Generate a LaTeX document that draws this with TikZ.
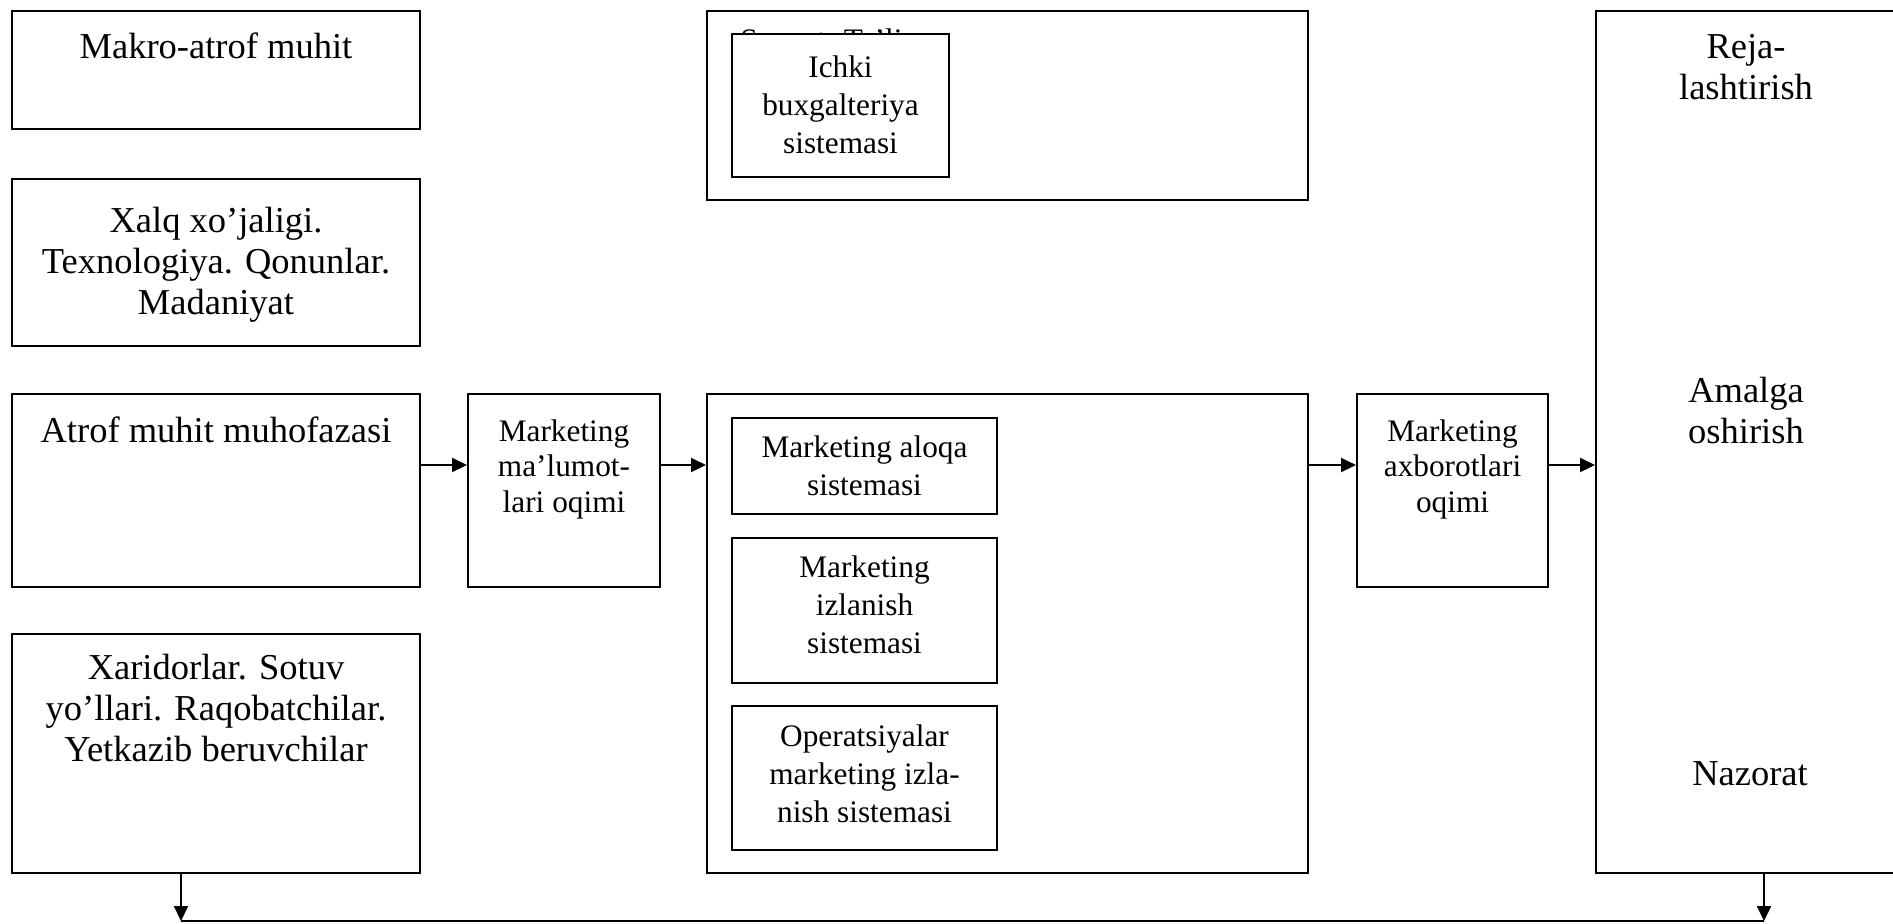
\documentclass[tikz,border=0pt]{standalone}
\usepackage{fontspec}
\setmainfont{Liberation Serif}
\usetikzlibrary{arrows.meta}
\begin{document}
\begin{tikzpicture}[x=0.5pt,y=-0.5pt,
  box/.style={draw, line width=1pt, fill=white, inner sep=0pt, anchor=center},
  bigtext/.style={font=\fontsize{18.25pt}{20.5pt}\selectfont, align=center, inner sep=0pt, anchor=base},
  smalltext/.style={font=\fontsize{15.65pt}{19pt}\selectfont, align=center, inner sep=0pt, anchor=base},
  flowtext/.style={font=\fontsize{15.65pt}{17.8pt}\selectfont, align=center, inner sep=0pt, anchor=base},
  arr/.style={line width=1pt, -{Triangle[length=7.5pt,width=7pt]}},
  plain/.style={line width=1pt}]
\clip (0,0) rectangle (1893,923);
% text nodes are placed by the baseline of their last line

% left column: environment
\node[box, minimum width=204pt, minimum height=59pt]   (mak)   at (216,70)    {};
\node[box, minimum width=204pt, minimum height=83.5pt] (xalq)  at (216,262.5) {};
\node[box, minimum width=204pt, minimum height=96.5pt] (atrof) at (216,490.5) {};
\node[box, minimum width=204pt, minimum height=119.5pt] (xar)  at (216,753.5) {};
\node[bigtext] (makT)   at (216,58)  {Makro-atrof muhit};
\node[bigtext] (xalqT)  at (216,314) {Xalq xo’jaligi.\\Texnologiya. Qonunlar.\\Madaniyat};
\node[bigtext] (atrofT) at (216,442) {Atrof muhit muhofazasi};
\node[bigtext] (xarT)   at (216,761) {Xaridorlar. Sotuv\\yo’llari. Raqobatchilar.\\Yetkazib beruvchilar};

% incoming data flow
\node[box, minimum width=96pt, minimum height=96.5pt] (malu) at (564,490.5) {};
\node[flowtext] (maluT) at (564,512.2) {Marketing\\ma’lumot-\\lari oqimi};

% upper middle block with the accounting system
\node[box, minimum width=300.5pt, minimum height=94.5pt] (top) at (1007.5,105.5) {};
\node[smalltext, anchor=base west] (topT) at (740,50) {Sanoat. Ta’lim};
\node[box, minimum width=108.5pt, minimum height=71.5pt] (ichki) at (840.5,105.5) {};
\node[smalltext] (ichkiT) at (840.5,153.4) {Ichki\\buxgalteriya\\sistemasi};

% lower middle block with the subsystems
\node[box, minimum width=300.5pt, minimum height=239.5pt] (mid) at (1007.5,633.5) {};
\node[box, minimum width=132.5pt, minimum height=48pt]   (aloqa) at (864.5,466)   {};
\node[box, minimum width=132.5pt, minimum height=72.5pt] (izl)   at (864.5,610.5) {};
\node[box, minimum width=132.5pt, minimum height=72pt]   (oper)  at (864.5,778)   {};
\node[smalltext] (aloqaT) at (864.5,495.4) {Marketing aloqa\\sistemasi};
\node[smalltext] (izlT)   at (864.5,653.4) {Marketing\\izlanish\\sistemasi};
\node[smalltext] (operT)  at (864.5,822.4) {Operatsiyalar\\marketing izla-\\nish sistemasi};

% outgoing information flow
\node[box, minimum width=95.5pt, minimum height=96.5pt] (axb) at (1452.5,490.5) {};
\node[flowtext] (axbT) at (1452.5,512.2) {Marketing\\axborotlari\\oqimi};

% management functions
\node[box, minimum width=152pt, minimum height=431pt] (right) at (1748,442) {};
\node[bigtext] (rejaT) at (1746,99)  {Reja-\\lashtirish};
\node[bigtext] (amalT) at (1746,443) {Amalga\\oshirish};
\node[bigtext] (nazT)  at (1750,785) {Nazorat};

% horizontal flow arrows
\coordinate (flow) at (0,465);
\draw[arr] (atrof.east |- flow) -- (malu.west |- flow);
\draw[arr] (malu.east |- flow) -- (mid.west |- flow);
\draw[arr] (mid.east |- flow) -- (axb.west |- flow);
\draw[arr] (axb.east |- flow) -- (right.west |- flow);

% feedback line along the bottom
\coordinate (fbL) at (181,921);
\coordinate (fbR) at (1764,921);
\draw[arr] (xar.south -| fbL) -- (fbL);
\draw[arr] (right.south -| fbR) -- (fbR);
\draw[plain] (fbL) -- (fbR);
\end{tikzpicture}
\end{document}
